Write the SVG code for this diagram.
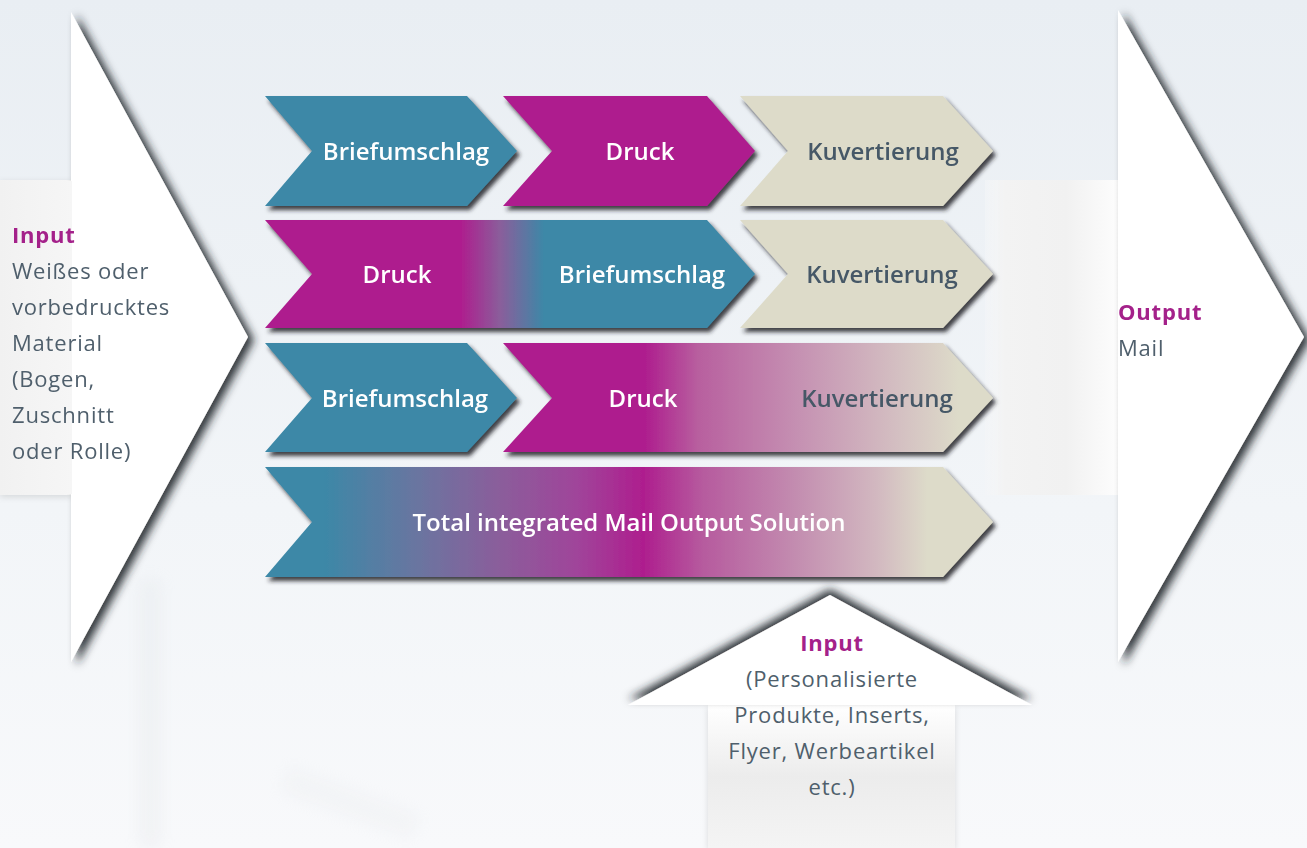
<svg xmlns="http://www.w3.org/2000/svg" width="1307" height="848" viewBox="0 0 1307 848">
<defs>
<linearGradient id="bg" x1="0" y1="0" x2="0" y2="1">
<stop offset="0" stop-color="#e9eef3"/>
<stop offset="0.6" stop-color="#f2f5f8"/>
<stop offset="1" stop-color="#f8f9fb"/>
</linearGradient>
<linearGradient id="gRow2" gradientUnits="userSpaceOnUse" x1="265" y1="0" x2="755" y2="0">
<stop offset="0" stop-color="#ae1e8e"/>
<stop offset="0.40" stop-color="#ae1e8e"/>
<stop offset="0.48" stop-color="#8a5e9b"/>
<stop offset="0.57" stop-color="#3c88a7"/>
<stop offset="1" stop-color="#3c88a7"/>
</linearGradient>
<linearGradient id="gRow3" gradientUnits="userSpaceOnUse" x1="503" y1="0" x2="993" y2="0">
<stop offset="0" stop-color="#ae1e8e"/>
<stop offset="0.29" stop-color="#ae1e8e"/>
<stop offset="0.40" stop-color="#b8609f"/>
<stop offset="0.60" stop-color="#c590b2"/>
<stop offset="0.81" stop-color="#d4c0c2"/>
<stop offset="0.93" stop-color="#dddbc9"/>
<stop offset="1" stop-color="#dddbc9"/>
</linearGradient>
<linearGradient id="gRow4" gradientUnits="userSpaceOnUse" x1="265" y1="0" x2="993" y2="0">
<stop offset="0" stop-color="#3c88a7"/>
<stop offset="0.08" stop-color="#3c88a7"/>
<stop offset="0.21" stop-color="#6a75a0"/>
<stop offset="0.32" stop-color="#8a5e9b"/>
<stop offset="0.43" stop-color="#a0449a"/>
<stop offset="0.52" stop-color="#ae1e8e"/>
<stop offset="0.60" stop-color="#b65a9e"/>
<stop offset="0.73" stop-color="#c38db0"/>
<stop offset="0.84" stop-color="#d2b8c0"/>
<stop offset="0.91" stop-color="#dddbc9"/>
<stop offset="1" stop-color="#dddbc9"/>
</linearGradient>
<linearGradient id="shaftL" x1="0" y1="0" x2="1" y2="0">
<stop offset="0" stop-color="#f1f1f1"/>
<stop offset="1" stop-color="#f6f6f6"/>
</linearGradient>
<linearGradient id="shaftR" x1="0" y1="0" x2="1" y2="0">
<stop offset="0" stop-color="#f4f6f8" stop-opacity="0.6"/>
<stop offset="0.15" stop-color="#f3f3f3"/>
<stop offset="0.6" stop-color="#f1f1f1"/>
<stop offset="1" stop-color="#fdfdfd"/>
</linearGradient>
<linearGradient id="shaftB" x1="0" y1="0" x2="0" y2="1">
<stop offset="0" stop-color="#ffffff"/>
<stop offset="0.5" stop-color="#ececec"/>
<stop offset="1" stop-color="#f4f4f4"/>
</linearGradient>
<filter id="chevShadow" x="-10%" y="-20%" width="125%" height="150%">
<feDropShadow dx="3" dy="4" stdDeviation="2.2" flood-color="#1e2225" flood-opacity="0.85"/>
</filter>
<filter id="headShadowR" x="-20%" y="-10%" width="150%" height="130%">
<feDropShadow dx="6" dy="3" stdDeviation="4" flood-color="#1e2225" flood-opacity="0.9"/>
</filter>
<filter id="headShadowU" x="-20%" y="-40%" width="140%" height="180%">
<feDropShadow dx="0" dy="-6" stdDeviation="4" flood-color="#1e2225" flood-opacity="0.9"/>
</filter>
<filter id="soft" x="-20%" y="-20%" width="140%" height="140%">
<feDropShadow dx="0" dy="2" stdDeviation="3" flood-color="#000" flood-opacity="0.12"/>
</filter>
<filter id="blur8"><feGaussianBlur stdDeviation="8"/></filter>
</defs>
<style>
.lbl{font-family:"Open Sans","Liberation Sans",sans-serif;font-weight:600;font-size:24px;text-anchor:middle}
.w{fill:#ffffff}
.d{fill:#465867}
.hd{font-family:"Open Sans","Liberation Sans",sans-serif;font-weight:700;font-size:22px;letter-spacing:0.8px;fill:#a4218a}
.bd{font-family:"Open Sans","Liberation Sans",sans-serif;font-weight:400;font-size:22px;letter-spacing:0.8px;fill:#4f5f6c}
</style>
<rect x="0" y="0" width="1307" height="848" fill="url(#bg)"/>
<g opacity="0.2" filter="url(#blur8)">
<rect x="140" y="580" width="20" height="268" fill="#d5d9dd"/>
<rect x="280" y="790" width="140" height="26" fill="#e2e5e8" transform="rotate(20 350 803)"/>
</g>

<g id="input-left">
<rect x="0" y="180" width="72" height="315" fill="url(#shaftL)" filter="url(#soft)"/>
<polygon points="71,12 248,337 71,662" fill="#ffffff" filter="url(#headShadowR)"/>
<rect x="0" y="181" width="72" height="313" fill="url(#shaftL)"/>
<text class="hd" x="12" y="243">Input</text>
<text class="bd" x="12" y="279">Weißes oder</text>
<text class="bd" x="12" y="315">vorbedrucktes</text>
<text class="bd" x="12" y="351">Material</text>
<text class="bd" x="12" y="387">(Bogen,</text>
<text class="bd" x="12" y="423">Zuschnitt</text>
<text class="bd" x="12" y="459">oder Rolle)</text>
</g>

<g id="output-right">
<rect x="985" y="180" width="134" height="315" fill="url(#shaftR)"/>
<polygon points="1118,10 1304,337 1118,662" fill="#ffffff" filter="url(#headShadowR)"/>
<text class="hd" x="1118" y="320">Output</text>
<text class="bd" x="1118" y="356">Mail</text>
</g>

<g id="input-bottom">
<rect x="708" y="705" width="247" height="143" fill="url(#shaftB)" filter="url(#soft)"/>
<polygon points="830,595 1032,705 628,705" fill="#ffffff" filter="url(#headShadowU)"/>
<text class="hd" x="832" y="651" text-anchor="middle">Input</text>
<text class="bd" x="832" y="687" text-anchor="middle">(Personalisierte</text>
<text class="bd" x="832" y="723" text-anchor="middle">Produkte, Inserts,</text>
<text class="bd" x="832" y="759" text-anchor="middle">Flyer, Werbeartikel</text>
<text class="bd" x="832" y="795" text-anchor="middle">etc.)</text>
</g>

<g id="r1-briefumschlag">
<polygon points="265,96 467,96 517,151 467,206 265,206 312,151" fill="#3c88a7" filter="url(#chevShadow)"/>
<text class="lbl w" x="406" y="160">Briefumschlag</text>
</g>
<g id="r1-druck">
<polygon points="503,96 707,96 755,151 707,206 503,206 552,151" fill="#ae1e8e" filter="url(#chevShadow)"/>
<text class="lbl w" x="640" y="160">Druck</text>
</g>
<g id="r1-kuvertierung">
<polygon points="740,96 943,96 993,151 943,206 740,206 788,151" fill="#dddbc9" filter="url(#chevShadow)"/>
<text class="lbl d" x="883" y="160">Kuvertierung</text>
</g>

<g id="r2-druck-briefumschlag">
<polygon points="265,220 707,220 755,274 707,328 265,328 312,274" fill="url(#gRow2)" filter="url(#chevShadow)"/>
<text class="lbl w" x="397" y="283">Druck</text>
<text class="lbl w" x="642" y="283">Briefumschlag</text>
</g>
<g id="r2-kuvertierung">
<polygon points="740,220 943,220 993,274 943,328 740,328 788,274" fill="#dddbc9" filter="url(#chevShadow)"/>
<text class="lbl d" x="882" y="283">Kuvertierung</text>
</g>

<g id="r3-briefumschlag">
<polygon points="265,343 467,343 517,398 467,452 265,452 312,398" fill="#3c88a7" filter="url(#chevShadow)"/>
<text class="lbl w" x="405" y="407">Briefumschlag</text>
</g>
<g id="r3-druck-kuvertierung">
<polygon points="503,343 943,343 993,398 943,452 503,452 552,398" fill="url(#gRow3)" filter="url(#chevShadow)"/>
<text class="lbl w" x="643" y="407">Druck</text>
<text class="lbl d" x="877" y="407">Kuvertierung</text>
</g>

<g id="r4-total">
<polygon points="265,467 943,467 993,522 943,577 265,577 312,522" fill="url(#gRow4)" filter="url(#chevShadow)"/>
<text class="lbl w" x="629" y="531">Total integrated Mail Output Solution</text>
</g>
</svg>
